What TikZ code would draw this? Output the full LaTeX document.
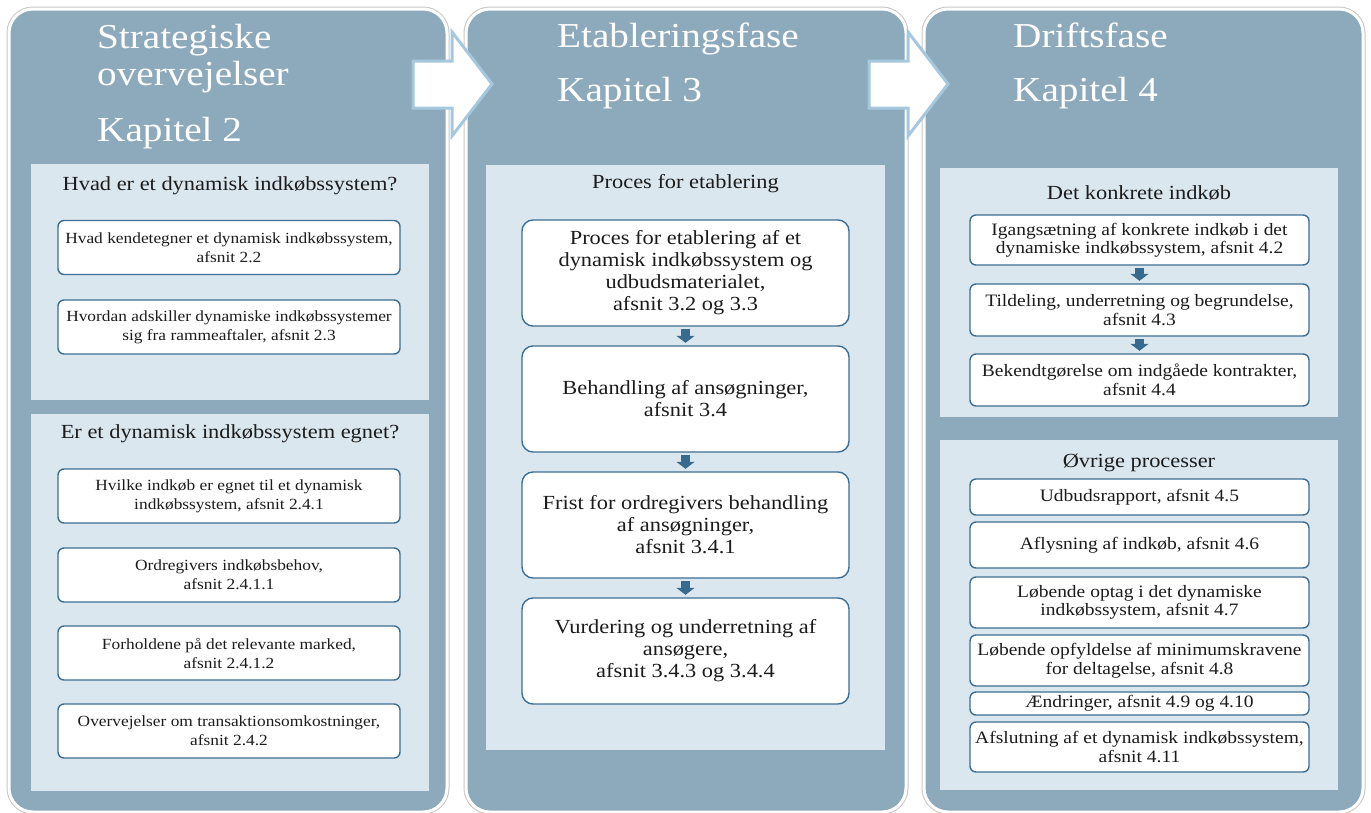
\documentclass[tikz,border=0pt]{standalone}
\usepackage{fontspec}
\setmainfont[FakeStretch=1.12]{Liberation Serif}
\usetikzlibrary{arrows.meta}
\definecolor{panelfill}{RGB}{141,170,189}
\definecolor{innerfill}{RGB}{218,231,239}
\definecolor{boxline}{RGB}{62,110,145}
\definecolor{arrowdark}{RGB}{55,106,141}
\definecolor{arrowlight}{RGB}{166,200,222}
\definecolor{txt}{RGB}{28,28,28}
\begin{document}
\begin{tikzpicture}[x=1pt,y=-1pt,
  panel/.style={rectangle, fill=panelfill, draw=white, line width=3pt, rounded corners=24pt,
    preaction={draw=black!22, line width=5pt}, inner sep=0pt},
  innerpanel/.style={rectangle, fill=innerfill, draw=none, inner sep=0pt},
  title/.style={anchor=base west, inner sep=0pt, text=white, font=\fontsize{35}{40}\selectfont},
  heading/.style={inner sep=0pt, text=txt, font=\fontsize{20}{24}\selectfont},
  box/.style={rectangle, draw=boxline, fill=white, line width=1.4pt, inner sep=0pt, align=center, text=txt},
  boxa/.style={box, rounded corners=6pt, minimum width=342pt, minimum height=54pt, font=\fontsize{15.5}{19}\selectfont},
  boxb/.style={box, rounded corners=11pt, minimum width=327pt, minimum height=106pt, font=\fontsize{20}{22}\selectfont},
  boxc/.style={box, rounded corners=6pt, minimum width=339pt, font=\fontsize{17.4}{18.5}\selectfont},
  flow/.style={line width=9pt, arrowdark, -{Triangle[width=18pt,length=7pt]}, shorten <=2pt, shorten >=2.5pt},
  bigarrow/.style={fill=white, draw=arrowlight, line width=3pt, line join=miter}
]
\useasboundingbox (0,0) rectangle (1371,812);
\fill[white] (0,0) rectangle (1371,812);

% outer panels
\node[panel, minimum width=438pt, minimum height=803pt] (p1) at (228,410.5) {};
\node[panel, minimum width=440pt, minimum height=803pt] (p2) at (686,410.5) {};
\node[panel, minimum width=439pt, minimum height=803pt] (p3) at (1143.5,410.5) {};

% big arrows between panels
\draw[bigarrow] (413,61) -- (452,61) -- (452,32) -- (492,84) -- (452,136) -- (452,108) -- (413,108) -- cycle;
\draw[bigarrow] (869,61) -- (908,61) -- (908,32) -- (948,84) -- (908,136) -- (908,108) -- (869,108) -- cycle;

% titles
\node[title] (t1a) at (97,48) {Strategiske};
\node[title] (t1b) at (97,85) {overvejelser};
\node[title] (t1c) at (97,141) {Kapitel 2};
\node[title] (t2a) at (557,47) {Etableringsfase};
\node[title] (t2b) at (557,101) {Kapitel 3};
\node[title] (t3a) at (1013,47) {Driftsfase};
\node[title] (t3b) at (1013,101) {Kapitel 4};

% inner panels
\node[innerpanel, minimum width=398pt, minimum height=236pt] (i11) at (230,282) {};
\node[innerpanel, minimum width=398pt, minimum height=377pt] (i12) at (230,602.5) {};
\node[innerpanel, minimum width=399pt, minimum height=585pt] (i2) at (685.5,457.5) {};
\node[innerpanel, minimum width=398pt, minimum height=249pt] (i31) at (1139,292.5) {};
\node[innerpanel, minimum width=398pt, minimum height=350pt] (i32) at (1139,615) {};

% headings
\node[heading] (h11) at (230,186) {Hvad er et dynamisk indkøbssystem?};
\node[heading] (h12) at (230,434) {Er et dynamisk indkøbssystem egnet?};
\node[heading] (h2) at (685.5,184) {Proces for etablering};
\node[heading] (h31) at (1139,193) {Det konkrete indkøb};
\node[heading] (h32) at (1139,463) {Øvrige processer};

% panel 1 boxes
\node[boxa] (b11) at (229,247.5) {Hvad kendetegner et dynamisk indkøbssystem,\\afsnit 2.2};
\node[boxa] (b12) at (229,327) {Hvordan adskiller dynamiske indkøbssystemer\\sig fra rammeaftaler, afsnit 2.3};
\node[boxa] (b21) at (229,496) {Hvilke indkøb er egnet til et dynamisk\\indkøbssystem, afsnit 2.4.1};
\node[boxa] (b22) at (229,575) {Ordregivers indkøbsbehov,\\afsnit 2.4.1.1};
\node[boxa] (b23) at (229,653) {Forholdene på det relevante marked,\\afsnit 2.4.1.2};
\node[boxa] (b24) at (229,731) {Overvejelser om transaktionsomkostninger,\\afsnit 2.4.2};

% panel 2 boxes
\node[boxb] (e1) at (685.5,273) {Proces for etablering af et\\dynamisk indkøbssystem og\\udbudsmaterialet,\\afsnit 3.2 og 3.3};
\node[boxb] (e2) at (685.5,399) {Behandling af ansøgninger,\\afsnit 3.4};
\node[boxb] (e3) at (685.5,525) {Frist for ordregivers behandling\\af ansøgninger,\\afsnit 3.4.1};
\node[boxb] (e4) at (685.5,651) {Vurdering og underretning af\\ansøgere,\\afsnit 3.4.3 og 3.4.4};
\draw[flow] (e1.south) -- (e2.north);
\draw[flow] (e2.south) -- (e3.north);
\draw[flow] (e3.south) -- (e4.north);

% panel 3 boxes
\node[boxc, minimum height=50pt] (d1) at (1139.5,240) {Igangsætning af konkrete indkøb i det\\dynamiske indkøbssystem, afsnit 4.2};
\node[boxc, minimum height=52pt] (d2) at (1139.5,310) {Tildeling, underretning og begrundelse,\\afsnit 4.3};
\node[boxc, minimum height=52pt] (d3) at (1139.5,380) {Bekendtgørelse om indgåede kontrakter,\\afsnit 4.4};
\draw[flow] (d1.south) -- (d2.north);
\draw[flow] (d2.south) -- (d3.north);

\node[boxc, minimum height=36pt] (o1) at (1139.5,497) {Udbudsrapport, afsnit 4.5};
\node[boxc, minimum height=46pt] (o2) at (1139.5,545) {Aflysning af indkøb, afsnit 4.6};
\node[boxc, minimum height=51pt] (o3) at (1139.5,602.5) {Løbende optag i det dynamiske\\indkøbssystem, afsnit 4.7};
\node[boxc, minimum height=51pt] (o4) at (1139.5,660.5) {Løbende opfyldelse af minimumskravene\\for deltagelse, afsnit 4.8};
\node[boxc, minimum height=23pt] (o5) at (1139.5,703.5) {Ændringer, afsnit 4.9 og 4.10};
\node[boxc, minimum height=50pt] (o6) at (1139.5,747) {Afslutning af et dynamisk indkøbssystem,\\afsnit 4.11};
\end{tikzpicture}
\end{document}
